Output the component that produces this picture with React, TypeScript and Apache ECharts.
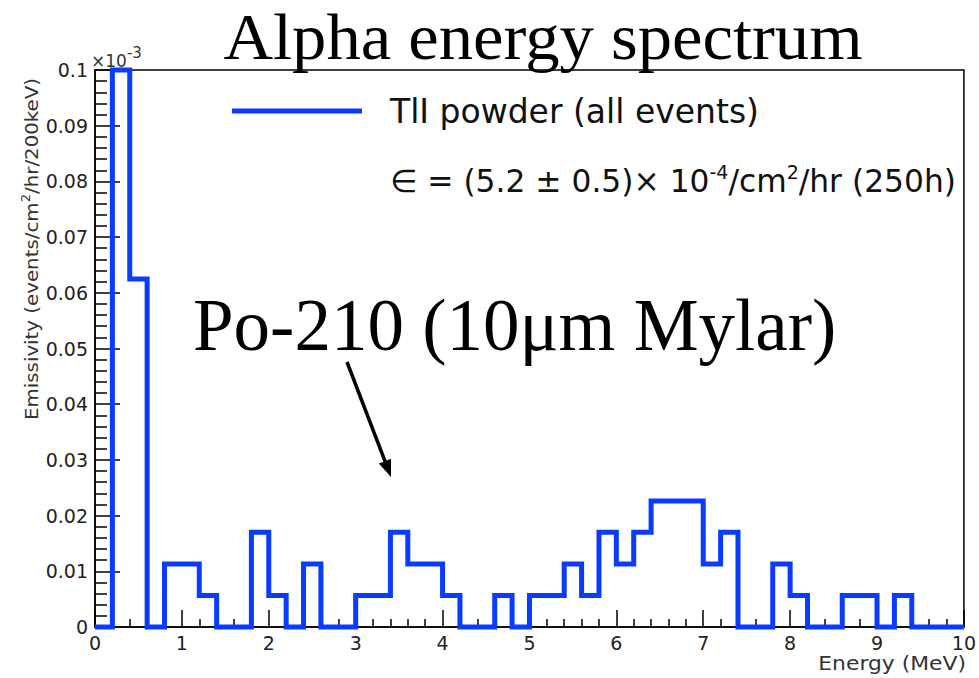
import React, { useEffect, useRef } from "react";
import * as echarts from "echarts";

// Histogram bin contents (events/cm^2/hr/200keV), bins of 0.2 MeV from 0 to 10 MeV
const binWidth = 0.2;
const binValues = [
  0, 0.1, 0.0625, 0, 0.0113, 0.0113, 0.00565, 0, 0, 0.017,
  0.00565, 0, 0.0113, 0, 0, 0.00565, 0.00565, 0.017, 0.0113, 0.0113,
  0.00565, 0, 0, 0.00565, 0, 0.00565, 0.00565, 0.0113, 0.00565, 0.017,
  0.0113, 0.017, 0.0226, 0.0226, 0.0226, 0.0113, 0.017, 0, 0, 0.0113,
  0.00565, 0, 0, 0.00565, 0.00565, 0, 0.00565, 0, 0, 0,
];
const xMin = 0;
const xMax = 10;
const yMin = 0;
const yMax = 0.1;

const titleText = "Alpha energy spectrum";
const annotationText = "Po-210 (10μm Mylar)";
const legendName = "TlI powder (all events)";
const xAxisName = "Energy (MeV)";

const ROOT_FONT = "DejaVu Sans";
const SERIF = "Liberation Serif";
const BLUE = "#0a3cff";
const K = 0.346; // central-baseline offset factor for DejaVu Sans

let measureCtx: CanvasRenderingContext2D | null = null;
function measure(text: string, size: number, family: string) {
  if (!measureCtx) measureCtx = document.createElement("canvas").getContext("2d");
  if (!measureCtx) return text.length * size * 0.6;
  measureCtx.font = `${size}px "${family}"`;
  return measureCtx.measureText(text).width;
}

type Seg = { t: string; size: number; dy?: number };
function runs(segs: Seg[], x0: number, baseline: number, family: string, color: string) {
  const out: any[] = [];
  let x = x0;
  for (const s of segs) {
    out.push({
      type: "text",
      x,
      y: baseline + (s.dy || 0) - K * s.size,
      style: {
        text: s.t,
        fontSize: s.size,
        fontFamily: family,
        fill: color,
        align: "left",
        verticalAlign: "middle",
        lineHeight: Math.round(s.size * 1.05),
      },
    });
    x += measure(s.t, s.size, family);
  }
  return out;
}

export default function App() {
  const ref = useRef<HTMLDivElement>(null);
  useEffect(() => {
    if (!ref.current) return;
    const chart = echarts.init(ref.current, undefined, { renderer: "svg" });

    const data: [number, number][] = binValues.map((v, i) => [xMin + i * binWidth, v]);
    data.push([xMax, binValues[binValues.length - 1]]);

    const labelColor = "#222";
    const tickStyle = { color: "#000", width: 1.5 };

    // arrow geometry
    const ax0 = 347, ay0 = 362, tipX = 391, tipY = 477;
    const dx = tipX - ax0, dy = tipY - ay0;
    const len = Math.sqrt(dx * dx + dy * dy);
    const ux = dx / len, uy = dy / len;
    const headL = 17, headW = 6.5;
    const bx = tipX - ux * headL, by = tipY - uy * headL;
    const px = -uy * headW, py = ux * headW;

    const graphics: any[] = [
      {
        type: "text",
        x: 543,
        y: 59 - 0.3375 * 66,
        scaleX: 1.04,
        style: {
          text: titleText,
          fontSize: 66,
          fontFamily: SERIF,
          fill: "#000",
          align: "center",
          verticalAlign: "middle",
          lineHeight: 56,
        },
      },
      {
        type: "text",
        x: 193,
        y: 350 - 0.3375 * 73,
        style: {
          text: annotationText,
          fontSize: 73,
          fontFamily: SERIF,
          fill: "#000",
          align: "left",
          verticalAlign: "middle",
          lineHeight: 74,
        },
      },
      {
        type: "line",
        shape: { x1: ax0, y1: ay0, x2: bx + ux * 2, y2: by + uy * 2 },
        style: { stroke: "#000", lineWidth: 3.5 },
      },
      {
        type: "polygon",
        shape: { points: [[tipX, tipY], [bx + px, by + py], [bx - px, by - py]] },
        style: { fill: "#000" },
      },
      {
        type: "line",
        shape: { x1: 232, y1: 111, x2: 362, y2: 111 },
        style: { stroke: BLUE, lineWidth: 5 },
      },
      ...runs([{ t: legendName, size: 33 }], 390, 123, ROOT_FONT, "#111"),
      ...runs(
        [
          { t: "∈ = (5.2 ± 0.5)× 10", size: 31.3 },
          { t: "-4", size: 19, dy: -13 },
          { t: "/cm", size: 31.3 },
          { t: "2", size: 19, dy: -13 },
          { t: "/hr (250h)", size: 31.3 },
        ],
        390,
        192,
        ROOT_FONT,
        "#111"
      ),
      ...runs(
        [
          { t: "×10", size: 17 },
          { t: "-3", size: 15, dy: -9 },
        ],
        91,
        67,
        ROOT_FONT,
        "#333"
      ),
      {
        type: "group",
        x: 31 + K * 18,
        y: 420,
        rotation: Math.PI / 2,
        scaleX: 1.1,
        children: runs(
          [
            { t: "Emissivity (events/cm", size: 18 },
            { t: "2", size: 12, dy: -7 },
            { t: "/hr/200keV)", size: 18 },
          ],
          0,
          0,
          ROOT_FONT,
          "#333"
        ),
      },
      {
        type: "text",
        x: 966,
        y: 670 - K * 19,
        scaleX: 1.15,
        style: {
          text: xAxisName,
          fontSize: 19,
          fontFamily: ROOT_FONT,
          fill: "#333",
          align: "right",
          verticalAlign: "middle",
          lineHeight: 18,
        },
      },
    ];

    chart.setOption({
      animation: false,
      backgroundColor: "#fff",
      grid: {
        left: 95,
        right: 11,
        top: 70,
        bottom: 51,
        show: true,
        borderColor: "#000",
        borderWidth: 1.5,
        backgroundColor: "transparent",
      },
      xAxis: {
        type: "value",
        min: xMin,
        max: xMax,
        interval: 1,
        axisLine: { show: true, onZero: false, lineStyle: { color: "#000", width: 1.5 } },
        axisTick: { show: true, inside: true, length: 17, lineStyle: tickStyle },
        minorTick: { show: true, splitNumber: 5, length: 8, lineStyle: tickStyle },
        splitLine: { show: false },
        minorSplitLine: { show: false },
        axisLabel: { color: labelColor, fontSize: 19, fontFamily: ROOT_FONT, margin: 7, lineHeight: 18 },
      },
      yAxis: {
        type: "value",
        min: yMin,
        max: yMax,
        interval: 0.01,
        axisLine: { show: true, onZero: false, lineStyle: { color: "#000", width: 1.5 } },
        axisTick: { show: true, inside: true, length: 25, lineStyle: tickStyle },
        minorTick: { show: true, splitNumber: 5, length: 12, lineStyle: tickStyle },
        splitLine: { show: false },
        minorSplitLine: { show: false },
        axisLabel: { color: labelColor, fontSize: 19, fontFamily: ROOT_FONT, margin: 7 },
      },
      series: [
        {
          type: "line",
          name: legendName,
          step: "end",
          data,
          symbol: "none",
          showSymbol: false,
          clip: false,
          lineStyle: { color: BLUE, width: 5, join: "miter", cap: "butt" },
          z: 3,
        },
      ],
      graphic: graphics,
    });

    return () => chart.dispose();
  }, []);

  return (
    <div
      ref={ref}
      style={{ position: "absolute", left: 0, top: 0, width: 979, height: 678, background: "#fff" }}
    />
  );
}
